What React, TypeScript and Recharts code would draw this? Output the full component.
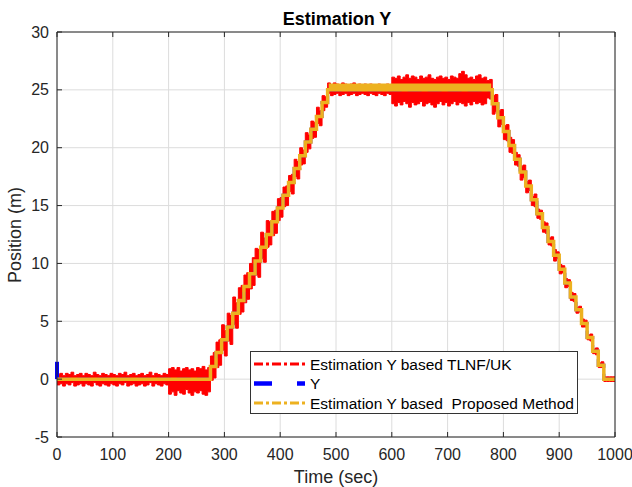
import React from "react";
import { ComposedChart, Area, Line, XAxis, YAxis, CartesianGrid } from "recharts";

// sample times (sec)
const time = [
  0, 5, 10, 15, 20, 25, 30, 35, 40, 45, 50, 55, 60, 65, 70, 75, 80, 85, 90, 95,
  100, 105, 110, 115, 120, 125, 130, 135, 140, 145, 150, 155, 160, 165, 170, 175, 180, 185, 190, 195,
  200, 205, 210, 215, 220, 225, 230, 235, 240, 245, 250, 255, 260, 265, 270, 275, 280, 285, 290, 295,
  300, 305, 310, 315, 320, 325, 330, 335, 340, 345, 350, 355, 360, 365, 370, 375, 380, 385, 390, 395,
  400, 405, 410, 415, 420, 425, 430, 435, 440, 445, 450, 455, 460, 465, 470, 475, 480, 485, 490, 495,
  500, 505, 510, 515, 520, 525, 530, 535, 540, 545, 550, 555, 560, 565, 570, 575, 580, 585, 590, 595,
  600, 605, 610, 615, 620, 625, 630, 635, 640, 645, 650, 655, 660, 665, 670, 675, 680, 685, 690, 695,
  700, 705, 710, 715, 720, 725, 730, 735, 740, 745, 750, 755, 760, 765, 770, 775, 780, 785, 790, 795,
  800, 805, 810, 815, 820, 825, 830, 835, 840, 845, 850, 855, 860, 865, 870, 875, 880, 885, 890, 895,
  900, 905, 910, 915, 920, 925, 930, 935, 940, 945, 950, 955, 960, 965, 970, 975, 980, 985, 990, 995,
  1000,
];

// true Y position (m)
const yTrue = [
  0, 0, 0, 0, 0, 0, 0, 0, 0, 0, 0, 0, 0, 0, 0, 0, 0, 0, 0, 0,
  0, 0, 0, 0, 0, 0, 0, 0, 0, 0, 0, 0, 0, 0, 0, 0, 0, 0, 0, 0,
  0, 0, 0, 0, 0, 0, 0, 0, 0, 0, 0, 0, 0, 0, 0, 1.1, 1.1, 2.3, 2.3, 3.4,
  3.4, 4.5, 4.5, 5.7, 5.7, 6.8, 6.8, 8.0, 8.0, 9.1, 9.1, 10.2, 10.2, 11.4, 11.4, 12.5, 12.5, 13.6, 13.6, 14.8,
  14.8, 15.9, 15.9, 17.0, 17.0, 18.2, 18.2, 19.3, 19.3, 20.5, 20.5, 21.6, 21.6, 22.7, 22.7, 23.9, 23.9, 25, 25, 25,
  25, 25, 25, 25, 25, 25, 25, 25, 25, 25, 25, 25, 25, 25, 25, 25, 25, 25, 25, 25,
  25, 25, 25, 25, 25, 25, 25, 25, 25, 25, 25, 25, 25, 25, 25, 25, 25, 25, 25, 25,
  25, 25, 25, 25, 25, 25, 25, 25, 25, 25, 25, 25, 25, 25, 25, 25, 23.8, 23.8, 22.6, 22.6,
  21.4, 21.4, 20.2, 20.2, 19.0, 19.0, 17.9, 17.9, 16.7, 16.7, 15.5, 15.5, 14.3, 14.3, 13.1, 13.1, 11.9, 11.9, 10.7, 10.7,
  9.5, 9.5, 8.3, 8.3, 7.1, 7.1, 6.0, 6.0, 4.8, 4.8, 3.6, 3.6, 2.4, 2.4, 1.2, 1.2, 0, 0, 0, 0,
  0,
];

// estimate from the proposed method
const yProposed = [
  0, 0, 0, 0, 0, 0, 0, 0, 0, 0, 0, 0, 0, 0, 0, 0, 0, 0, 0, 0,
  0, 0, 0, 0, 0, 0, 0, 0, 0, 0, 0, 0, 0, 0, 0, 0, 0, 0, 0, 0,
  0, 0, 0, 0, 0, 0, 0, 0, 0, 0, 0, 0, 0, 0, 0, 1.1, 1.1, 2.3, 2.3, 3.4,
  3.4, 4.5, 4.5, 5.7, 5.7, 6.8, 6.8, 8.0, 8.0, 9.1, 9.1, 10.2, 10.2, 11.4, 11.4, 12.5, 12.5, 13.6, 13.6, 14.8,
  14.8, 15.9, 15.9, 17.0, 17.0, 18.2, 18.2, 19.3, 19.3, 20.5, 20.5, 21.6, 21.6, 22.7, 22.7, 23.9, 23.9, 25, 25.4, 25,
  25.4, 25, 25.4, 25, 25.4, 25, 25.4, 25, 25.4, 25, 25.4, 25, 25.4, 25, 25.4, 25, 25.4, 25, 25.4, 25,
  25.4, 25, 25.4, 25, 25.4, 25, 25.4, 25, 25.4, 25, 25.4, 25, 25.4, 25, 25.4, 25, 25.4, 25, 25.4, 25,
  25.4, 25, 25.4, 25, 25.4, 25, 25.4, 25, 25.4, 25, 25.4, 25, 25.4, 25, 25.4, 25, 23.8, 23.8, 22.6, 22.6,
  21.4, 21.4, 20.2, 20.2, 19.0, 19.0, 17.9, 17.9, 16.7, 16.7, 15.5, 15.5, 14.3, 14.3, 13.1, 13.1, 11.9, 11.9, 10.7, 10.7,
  9.5, 9.5, 8.3, 8.3, 7.1, 7.1, 6.0, 6.0, 4.8, 4.8, 3.6, 3.6, 2.4, 2.4, 1.2, 1.2, 0, 0, 0, 0,
  0,
];

// TLNF/UK estimate spread above / below the true Y
const tlnfUp = [
  0.4, 0.5, 0.3, 0.5, 0.4, 0.6, 0.3, 0.4, 0.5, 0.3, 0.5, 0.4, 0.3, 0.6, 0.4, 0.3, 0.5, 0.4, 0.3, 0.5,
  0.4, 0.3, 0.5, 0.4, 0.6, 0.3, 0.4, 0.5, 0.3, 0.4, 0.5, 0.3, 0.4, 0.6, 0.3, 0.5, 0.4, 0.3, 0.5, 0.4,
  0.9, 1.0, 0.8, 1.0, 0.7, 0.9, 1.0, 0.8, 0.9, 0.7, 1.0, 0.9, 1.1, 0.8, 1.0, 0.9, 1.2, 0.9, 1.1, 1.3,
  0.8, 1.2, 1.0, 1.4, 0.9, 1.1, 1.3, 1.0, 1.2, 0.9, 1.4, 1.1, 1.0, 1.3, 0.8, 1.2, 1.1, 0.9, 1.0, 0.8,
  0.9, 0.7, 0.8, 0.6, 0.7, 0.8, 0.6, 0.7, 0.5, 0.8, 0.6, 0.7, 0.6, 0.8, 0.5, 0.6, 0.5, 0.6, 0.4, 0.6,
  0.5, 0.4, 0.6, 0.5, 0.4, 0.5, 0.6, 0.4, 0.5, 0.3, 0.5, 0.4, 0.5, 0.3, 0.4, 0.5, 0.4, 0.3, 0.5, 0.4,
  1.1, 1.0, 1.2, 0.9, 1.1, 1.3, 1.0, 1.2, 1.1, 0.9, 1.2, 1.0, 1.1, 1.3, 1.0, 0.9, 1.1, 1.2, 1.0, 1.1,
  0.9, 1.2, 1.1, 1.0, 1.4, 1.6, 1.3, 1.0, 1.1, 0.9, 1.2, 1.3, 1.0, 1.1, 0.8, 0.9, 0.7, 0.8, 0.6, 0.7,
  0.5, 0.6, 0.7, 0.5, 0.6, 0.4, 0.5, 0.6, 0.4, 0.5, 0.3, 0.5, 0.4, 0.3, 0.5, 0.4, 0.3, 0.4, 0.5, 0.3,
  0.4, 0.3, 0.4, 0.3, 0.4, 0.3, 0.2, 0.3, 0.4, 0.3, 0.2, 0.3, 0.2, 0.3, 0.2, 0.3, 0.2, 0.2, 0.2, 0.2,
  0.2,
];

const tlnfDown = [
  0.5, 0.4, 0.6, 0.4, 0.5, 0.3, 0.6, 0.5, 0.4, 0.6, 0.4, 0.5, 0.6, 0.3, 0.5, 0.6, 0.4, 0.5, 0.6, 0.4,
  0.5, 0.6, 0.4, 0.5, 0.3, 0.6, 0.5, 0.4, 0.6, 0.5, 0.4, 0.6, 0.5, 0.3, 0.6, 0.4, 0.5, 0.6, 0.4, 0.5,
  1.3, 1.1, 1.4, 1.0, 1.2, 1.3, 0.9, 1.2, 1.4, 1.1, 1.2, 1.0, 1.3, 1.4, 1.1, 1.2, 1.0, 1.3, 1.1, 0.9,
  1.4, 1.2, 1.5, 1.0, 1.3, 1.2, 1.0, 1.4, 1.1, 1.3, 1.0, 1.2, 1.4, 1.0, 1.3, 1.1, 0.9, 1.2, 1.0, 1.1,
  0.8, 1.0, 0.9, 0.8, 1.0, 0.7, 0.9, 0.8, 0.7, 0.9, 0.6, 0.8, 0.7, 0.6, 0.8, 0.7, 0.4, 0.3, 0.5, 0.4,
  0.3, 0.5, 0.4, 0.3, 0.5, 0.4, 0.3, 0.5, 0.4, 0.3, 0.4, 0.5, 0.3, 0.4, 0.5, 0.3, 0.4, 0.5, 0.3, 0.4,
  1.2, 1.4, 1.1, 1.3, 1.0, 1.2, 1.5, 1.1, 1.3, 1.2, 1.0, 1.4, 1.2, 1.1, 1.3, 1.5, 1.2, 1.0, 1.3, 1.1,
  1.4, 1.2, 1.0, 1.3, 1.1, 1.2, 1.4, 1.1, 1.3, 1.0, 1.2, 1.1, 1.3, 1.2, 0.7, 0.8, 0.9, 0.7, 0.8, 0.6,
  0.7, 0.8, 0.6, 0.7, 0.5, 0.6, 0.7, 0.5, 0.6, 0.4, 0.5, 0.6, 0.4, 0.5, 0.4, 0.5, 0.3, 0.4, 0.5, 0.3,
  0.4, 0.3, 0.4, 0.3, 0.3, 0.4, 0.3, 0.2, 0.3, 0.3, 0.2, 0.3, 0.2, 0.3, 0.2, 0.2, 0.2, 0.2, 0.2, 0.2,
  0.2,
];

// initial jump of Y at t = 0
const ySpike = [
  { t: 0, v: 1.5 },
  { t: 0, v: 0 },
];

const xTicks = [0, 100, 200, 300, 400, 500, 600, 700, 800, 900, 1000];
const yTicks = [-5, 0, 5, 10, 15, 20, 25, 30];

const FONT = '"Liberation Sans", Arial, Helvetica, sans-serif';
const AXIS = "#262626";
const RED = "#ff0000";
const BLUE = "#0000ff";
const ORANGE = "#edb120";
const TICK_LEN = 5;

const table = time.map((t, i) => ({
  t,
  y: yTrue[i],
  est: yProposed[i],
  tlnf: [yTrue[i] - tlnfDown[i], yTrue[i] + tlnfUp[i]],
}));

const legendRows = [
  { label: "Estimation Y based TLNF/UK", color: RED, width: 3, dash: "9 3 3 3" },
  { label: "Y", color: BLUE, width: 4.5, dash: "18 25" },
  { label: "Estimation Y based  Proposed Method", color: ORANGE, width: 3, dash: "9 3 3 3" },
];

// MATLAB style ticks: pointing into the plot box
const BottomTick = (props: any) => {
  const { x, y, payload } = props;
  const axisY = y - 11;
  return (
    <g>
      <line x1={x} x2={x} y1={axisY} y2={axisY - TICK_LEN} stroke={AXIS} strokeWidth={1} />
      <text x={x} y={y + 12} textAnchor="middle" fontFamily={FONT} fontSize={16} fill={AXIS}>
        {payload.value}
      </text>
    </g>
  );
};

const LeftTick = (props: any) => {
  const { x, y, payload } = props;
  const axisX = x + 8;
  return (
    <g>
      <line x1={axisX} x2={axisX + TICK_LEN} y1={y} y2={y} stroke={AXIS} strokeWidth={1} />
      <text x={x} y={y + 5.5} textAnchor="end" fontFamily={FONT} fontSize={16} fill={AXIS}>
        {payload.value}
      </text>
    </g>
  );
};

const TopTick = (props: any) => {
  const { x, y } = props;
  return <line x1={x} x2={x} y1={y} y2={y + TICK_LEN} stroke={AXIS} strokeWidth={1} />;
};

const RightTick = (props: any) => {
  const { x, y } = props;
  return <line x1={x} x2={x - TICK_LEN} y1={y} y2={y} stroke={AXIS} strokeWidth={1} />;
};

export default function App() {
  return (
    <div
      style={{
        position: "absolute",
        left: 0,
        top: 0,
        width: 632,
        height: 487,
        background: "#fff",
      }}
    >
      <ComposedChart
        width={632}
        height={487}
        data={table}
        margin={{ top: 31, right: 16, bottom: 20, left: 12 }}
      >
        <CartesianGrid stroke="#dcdcdc" strokeWidth={1} />
        <XAxis
          dataKey="t"
          type="number"
          domain={[0, 1000]}
          ticks={xTicks}
          interval={0}
          height={30}
          tickSize={0}
          tickMargin={11}
          tickLine={false}
          stroke={AXIS}
          tick={<BottomTick />}
        />
        <XAxis
          xAxisId="top"
          orientation="top"
          dataKey="t"
          type="number"
          domain={[0, 1000]}
          ticks={xTicks}
          interval={0}
          height={1}
          tickSize={0}
          tickMargin={0}
          tickLine={false}
          stroke={AXIS}
          tick={<TopTick />}
        />
        <YAxis
          type="number"
          domain={[-5, 30]}
          ticks={yTicks}
          interval={0}
          width={45}
          tickSize={0}
          tickMargin={8}
          tickLine={false}
          stroke={AXIS}
          tick={<LeftTick />}
        />
        <YAxis
          yAxisId="right"
          orientation="right"
          type="number"
          domain={[-5, 30]}
          ticks={yTicks}
          interval={0}
          width={1}
          tickSize={0}
          tickMargin={0}
          tickLine={false}
          stroke={AXIS}
          tick={<RightTick />}
        />
        <Area
          dataKey="tlnf"
          type="stepAfter"
          stroke={RED}
          strokeWidth={1}
          fill={RED}
          fillOpacity={1}
          isAnimationActive={false}
        />
        <Line
          dataKey="y"
          type="stepAfter"
          stroke={BLUE}
          strokeWidth={3}
          strokeDasharray="14 6"
          dot={false}
          isAnimationActive={false}
        />
        <Line
          data={ySpike}
          dataKey="v"
          type="linear"
          stroke={BLUE}
          strokeWidth={4}
          dot={false}
          isAnimationActive={false}
        />
        <Line
          dataKey="est"
          type="stepAfter"
          stroke={ORANGE}
          strokeWidth={3.5}
          dot={false}
          isAnimationActive={false}
        />
      </ComposedChart>

      <svg
        width={632}
        height={487}
        style={{ position: "absolute", left: 0, top: 0, pointerEvents: "none" }}
      >
        <text x={337} y={25} textAnchor="middle" fontFamily={FONT} fontSize={18} fontWeight="bold" fill="#000">
          Estimation Y
        </text>
        <text x={336} y={483} textAnchor="middle" fontFamily={FONT} fontSize={18} fill={AXIS}>
          Time (sec)
        </text>
        <text
          x={0}
          y={0}
          transform="translate(21,235) rotate(-90)"
          textAnchor="middle"
          fontFamily={FONT}
          fontSize={18}
          fill={AXIS}
        >
          Position (m)
        </text>

        {/* legend box */}
        <rect x={250.5} y={351.5} width={327} height={62} fill="#fff" stroke="#333" strokeWidth={1} />
        {legendRows.map((row, i) => {
          const cy = 364 + i * 19.5;
          return (
            <g key={row.label}>
              <line
                x1={254}
                x2={305}
                y1={cy}
                y2={cy}
                stroke={row.color}
                strokeWidth={row.width}
                strokeDasharray={row.dash}
              />
              <text x={310} y={cy + 5.5} fontFamily={FONT} fontSize={15.5} fill="#000" style={{ whiteSpace: "pre" }}>
                {row.label}
              </text>
            </g>
          );
        })}
      </svg>
    </div>
  );
}
